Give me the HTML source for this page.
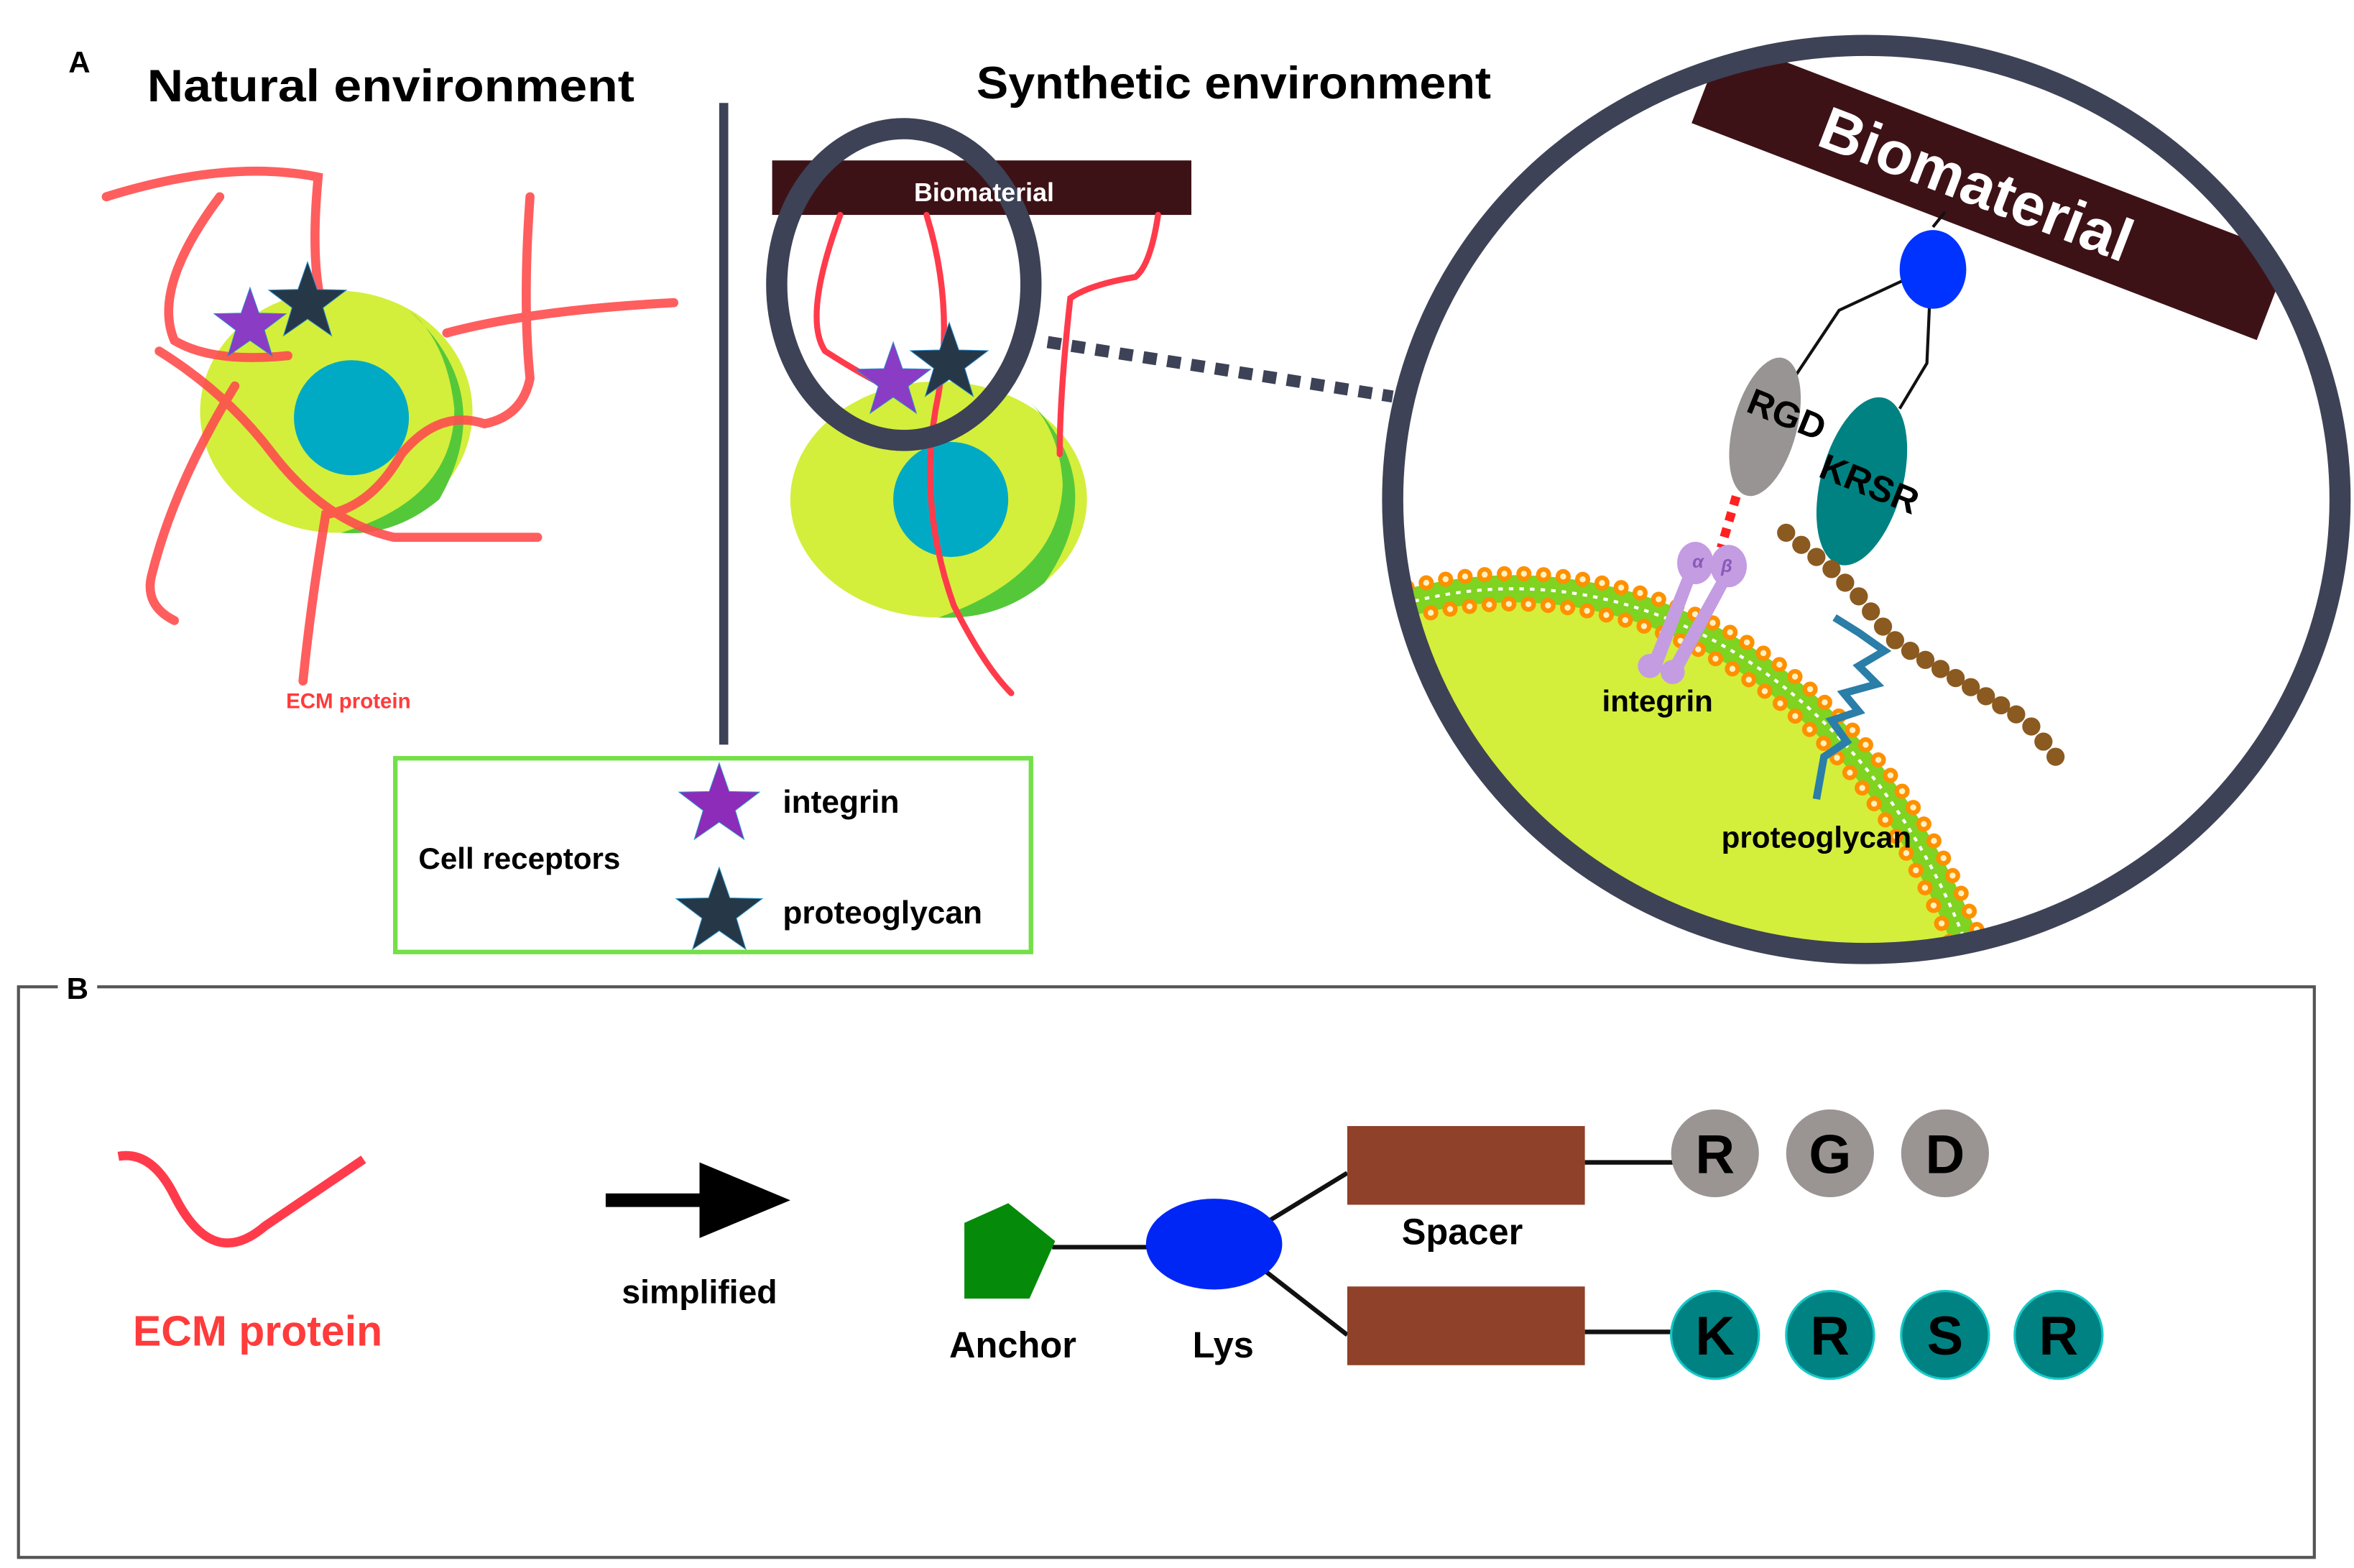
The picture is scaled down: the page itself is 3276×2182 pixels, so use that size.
<!DOCTYPE html>
<html><head><meta charset="utf-8"><style>
html,body{margin:0;padding:0;background:#fff;overflow:hidden;width:3276px;height:2182px;}
svg{display:block;}
text{font-family:"Liberation Sans",sans-serif;font-weight:bold;}
</style></head><body>
<svg width="3276" height="2182" viewBox="0 0 1555 1036" xmlns="http://www.w3.org/2000/svg">
<defs>
<path id="star" vector-effect="non-scaling-stroke" d="M0,-1 L0.235,-0.324 L0.951,-0.309 L0.380,0.124 L0.588,0.809 L0,0.4 L-0.588,0.809 L-0.380,0.124 L-0.951,-0.309 L-0.235,-0.324 Z"/>
<clipPath id="bigc"><ellipse cx="1233" cy="330" rx="306" ry="294"/></clipPath>
</defs>
<rect width="1555" height="1036" fill="#fff"/>

<!-- Panel A titles -->
<text x="45" y="48" font-size="20">A</text>
<text x="258" y="67" font-size="30" text-anchor="middle" textLength="322" lengthAdjust="spacingAndGlyphs">Natural environment</text>
<text x="815" y="65" font-size="30" text-anchor="middle" textLength="340" lengthAdjust="spacingAndGlyphs">Synthetic environment</text>
<line x1="478" y1="68" x2="478" y2="492" stroke="#3d4256" stroke-width="6"/>

<!-- Natural cell -->
<ellipse cx="222" cy="272" rx="90" ry="80" fill="#d4ee3c"/>
<path d="M270,205 Q330,260 290,330 Q260,355 225,352 Q300,330 300,270 Q295,225 270,205Z" fill="#55c83a"/>
<ellipse cx="232" cy="276" rx="38" ry="38" fill="#00aac4"/>
<g fill="none" stroke="#ff4d4d" stroke-width="6" stroke-linecap="round" opacity="0.9">
<path d="M70,130 Q150,105 210,117 Q205,170 212,200"/>
<path d="M145,130 Q100,190 115,225 Q140,240 190,235"/>
<path d="M105,232 Q150,260 180,300 Q215,345 260,355 L355,355"/>
<path d="M350,130 Q345,200 350,250 Q345,275 320,280 Q290,270 265,300 Q245,335 215,340 Q205,400 200,450"/>
<path d="M295,220 Q350,205 445,200"/>
<path d="M155,255 Q115,320 100,380 Q95,400 115,410"/>
</g>
<g stroke="#2a8ad0" stroke-width="1">
<use href="#star" transform="translate(165,215) scale(25)" fill="#8a3cc4"/>
<use href="#star" transform="translate(203,200) scale(27)" fill="#263848"/>
</g>
<text x="230" y="468" font-size="14" fill="#ff3b3b" text-anchor="middle">ECM protein</text>

<!-- Synthetic -->
<rect x="510" y="106" width="277" height="36" fill="#3d1216"/>
<ellipse cx="620" cy="330" rx="98" ry="78" fill="#d4ee3c"/>
<path d="M680,265 Q735,320 690,385 Q660,410 620,408 Q700,380 702,320 Q700,285 680,265Z" fill="#55c83a"/>
<ellipse cx="628" cy="330" rx="38" ry="38" fill="#00aac4"/>
<g fill="none" stroke="#ff3b4b" stroke-width="4" stroke-linecap="round">
<path d="M555,142 Q530,210 545,232 Q570,248 585,255"/>
<path d="M612,142 Q630,200 620,260 Q605,330 630,400 Q650,440 668,458"/>
<path d="M765,142 Q760,175 750,183 Q720,188 707,197 Q700,260 700,300"/>
</g>
<ellipse cx="597" cy="188" rx="84" ry="103" fill="none" stroke="#3d4256" stroke-width="14"/>
<text x="650" y="133" font-size="17" fill="#fff" text-anchor="middle">Biomaterial</text>
<g stroke="#2a8ad0" stroke-width="1">
<use href="#star" transform="translate(590,252) scale(26)" fill="#8a3cc4"/>
<use href="#star" transform="translate(627,240) scale(27)" fill="#263848"/>
</g>
<line x1="692" y1="226" x2="920" y2="262" stroke="#3d4256" stroke-width="8" stroke-dasharray="9,7"/>

<!-- Big circle contents -->
<g clip-path="url(#bigc)">
<ellipse cx="1000" cy="800" rx="340" ry="420" fill="#d4ee3c"/>
<ellipse cx="1000" cy="800" rx="331" ry="411" fill="none" stroke="#7fd321" stroke-width="18"/>
<ellipse cx="1000" cy="800" rx="331" ry="411" fill="none" stroke="#fff" stroke-width="2" stroke-dasharray="3,4"/>
<ellipse cx="1000" cy="800" rx="341" ry="421" fill="none" stroke="#ff9000" stroke-width="10" stroke-linecap="round" stroke-dasharray="0,13"/>
<ellipse cx="1000" cy="800" rx="321" ry="401" fill="none" stroke="#ff9000" stroke-width="10" stroke-linecap="round" stroke-dasharray="0,13"/>
<ellipse cx="1000" cy="800" rx="341" ry="421" fill="none" stroke="#fff2c0" stroke-width="4" stroke-linecap="round" stroke-dasharray="0,13"/>
<ellipse cx="1000" cy="800" rx="321" ry="401" fill="none" stroke="#fff2c0" stroke-width="4" stroke-linecap="round" stroke-dasharray="0,13"/>

<g transform="translate(1315,125) rotate(21)">
<rect x="-200" y="-30" width="400" height="60" fill="#3d1216"/>
<text x="-10" y="14" font-size="40" fill="#fff" text-anchor="middle">Biomaterial</text>
</g>
<g fill="none" stroke="#111" stroke-width="2">
<path d="M1277,150 L1285,140"/>
<path d="M1258,185 L1215,205 L1185,250"/>
<path d="M1275,195 L1273,240 L1255,270"/>
</g>
<ellipse cx="1277" cy="178" rx="22" ry="26" fill="#0033ff"/>
<ellipse cx="1166" cy="282" rx="21" ry="47" fill="#999494" transform="rotate(15 1166 282)"/>
<ellipse cx="1230" cy="318" rx="27" ry="57" fill="#008282" transform="rotate(15 1230 318)"/>
<text x="1180" y="282" font-size="24" text-anchor="middle" transform="rotate(22 1180 275)">RGD</text>
<text x="1235" y="328" font-size="24" text-anchor="middle" transform="rotate(22 1235 320)">KRSR</text>
<line x1="1147" y1="328" x2="1137" y2="362" stroke="#ff2020" stroke-width="6" stroke-dasharray="6,5"/>
<g fill="#c49ce2">
<ellipse cx="1120" cy="372" rx="12" ry="14"/>
<ellipse cx="1142" cy="374" rx="12" ry="14"/>
<path d="M1112,380 L1120,382 L1098,440 L1089,437Z"/>
<path d="M1135,382 L1143,384 L1112,442 L1103,439Z"/>
<circle cx="1090" cy="440" r="8"/>
<circle cx="1105" cy="444" r="8"/>
</g>
<text x="1118" y="375" font-size="12" fill="#8a5ab8" font-style="italic" font-weight="normal" font-family="Liberation Serif">α</text>
<text x="1137" y="378" font-size="12" fill="#8a5ab8" font-style="italic" font-weight="normal" font-family="Liberation Serif">β</text>
<g fill="#8b5a20">
<circle cx="1180" cy="352" r="6"/><circle cx="1190" cy="360" r="6"/><circle cx="1200" cy="368" r="6"/><circle cx="1210" cy="376" r="6"/><circle cx="1219" cy="385" r="6"/><circle cx="1228" cy="394" r="6"/><circle cx="1236" cy="404" r="6"/><circle cx="1244" cy="414" r="6"/><circle cx="1252" cy="423" r="6"/><circle cx="1262" cy="430" r="6"/><circle cx="1272" cy="436" r="6"/><circle cx="1282" cy="442" r="6"/><circle cx="1292" cy="448" r="6"/><circle cx="1302" cy="454" r="6"/><circle cx="1312" cy="460" r="6"/><circle cx="1322" cy="466" r="6"/><circle cx="1332" cy="472" r="6"/><circle cx="1342" cy="480" r="6"/><circle cx="1350" cy="490" r="6"/><circle cx="1358" cy="500" r="6"/>
</g>
<path d="M1212,408 L1228,418 L1245,430 L1228,440 L1240,452 L1218,458 L1228,470 L1210,476 L1220,490 L1205,500 L1200,528" fill="none" stroke="#2a7ea8" stroke-width="5"/>
<text x="1095" y="470" font-size="20" text-anchor="middle">integrin</text>
<text x="1200" y="560" font-size="20" text-anchor="middle">proteoglycan</text>
</g>
<ellipse cx="1233" cy="330" rx="313" ry="300" fill="none" stroke="#3d4256" stroke-width="14"/>

<!-- Legend -->
<rect x="261" y="501" width="420" height="128" fill="none" stroke="#73e048" stroke-width="3"/>
<text x="343" y="574" font-size="20" text-anchor="middle">Cell receptors</text>
<g stroke="#2a9ad0" stroke-width="1">
<use href="#star" transform="translate(475,532) scale(28)" fill="#8c2cb8"/>
<use href="#star" transform="translate(475,603) scale(30)" fill="#263848"/>
</g>
<text x="517" y="537" font-size="21">integrin</text>
<text x="517" y="610" font-size="21">proteoglycan</text>

<!-- Panel B -->
<rect x="12" y="652" width="1517" height="377" fill="none" stroke="#555" stroke-width="2"/>
<rect x="38" y="640" width="26" height="24" fill="#fff"/>
<text x="51" y="660" font-size="20" text-anchor="middle">B</text>
<path d="M78,764 Q100,760 115,790 Q140,840 175,810 L240,766" fill="none" stroke="#ff3b4b" stroke-width="6"/>
<text x="170" y="889" font-size="28" fill="#ff3b3b" text-anchor="middle">ECM protein</text>
<line x1="400" y1="793" x2="485" y2="793" stroke="#000" stroke-width="9"/>
<polygon points="462,768 522,793 462,818" fill="#000"/>
<text x="462" y="861" font-size="22" text-anchor="middle">simplified</text>

<g stroke="#111" stroke-width="3">
<line x1="695" y1="824" x2="760" y2="824"/>
<line x1="836" y1="808" x2="890" y2="775"/>
<line x1="836" y1="840" x2="890" y2="882"/>
<line x1="1047" y1="768" x2="1105" y2="768"/>
<line x1="1047" y1="880" x2="1105" y2="880"/>
</g>
<polygon points="637,808 666,795 697,820 680,858 637,858" fill="#068a0a"/>
<ellipse cx="802" cy="822" rx="45" ry="30" fill="#0026f5"/>
<rect x="890" y="744" width="157" height="52" fill="#8f4129"/>
<rect x="890" y="850" width="157" height="52" fill="#8f4129"/>
<text x="966" y="822" font-size="24" text-anchor="middle">Spacer</text>
<text x="669" y="897" font-size="24" text-anchor="middle">Anchor</text>
<text x="808" y="897" font-size="24" text-anchor="middle">Lys</text>
<g font-size="36" text-anchor="middle">
<circle cx="1133" cy="762" r="29" fill="#9a9593"/><text x="1133" y="775">R</text>
<circle cx="1209" cy="762" r="29" fill="#9a9593"/><text x="1209" y="775">G</text>
<circle cx="1285" cy="762" r="29" fill="#9a9593"/><text x="1285" y="775">D</text>
<circle cx="1133" cy="882" r="29" fill="#008282" stroke="#17c8c8" stroke-width="1.5"/><text x="1133" y="895">K</text>
<circle cx="1209" cy="882" r="29" fill="#008282" stroke="#17c8c8" stroke-width="1.5"/><text x="1209" y="895">R</text>
<circle cx="1285" cy="882" r="29" fill="#008282" stroke="#17c8c8" stroke-width="1.5"/><text x="1285" y="895">S</text>
<circle cx="1360" cy="882" r="29" fill="#008282" stroke="#17c8c8" stroke-width="1.5"/><text x="1360" y="895">R</text>
</g>
</svg>
</body></html>
